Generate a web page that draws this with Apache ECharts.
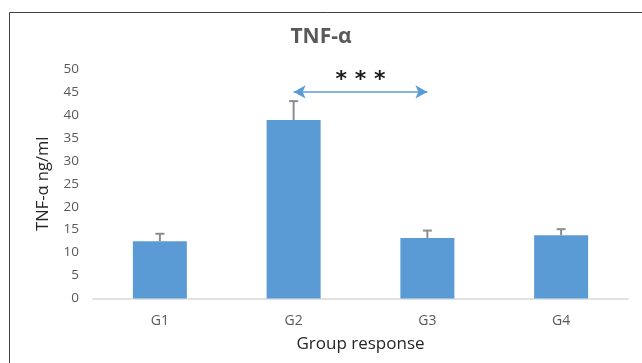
<!DOCTYPE html>
<html>
<head>
<meta charset="utf-8">
<script src="https://cdn.jsdelivr.net/npm/echarts@6/dist/echarts.min.js"></script>
<style>
  html, body { margin: 0; padding: 0; background: #fff; }
  #chart { width: 642px; height: 363px; }
</style>
</head>
<body>
<div id="chart"></div>
<script>
// TNF-α concentration per group (mean ± error)
const categories = ['G1', 'G2', 'G3', 'G4'];
const meanValues = [12.5, 38.9, 13.2, 13.8];
const errorValues = [1.6, 4.1, 1.6, 1.3];
const yTicks = { min: 0, max: 50, interval: 5 };
// significance bracket between G2 and G3
const sigFrom = 'G2';
const sigTo = 'G3';
const sigLevel = 45;
const sigText = '* * *';

const chart = echarts.init(document.getElementById('chart'), null, { renderer: 'canvas' });

const errorData = categories.map((c, i) => [i, meanValues[i], errorValues[i]]);

const option = {
  animation: false,
  backgroundColor: '#ffffff',
  title: {
    text: 'TNF-α',
    left: 'center',
    top: 22,
    textStyle: { fontFamily: 'Open Sans', fontSize: 21, fontWeight: 'bold', color: '#595959' }
  },
  graphic: [{
    type: 'rect',
    shape: { x: 9.5, y: 12.5, width: 700, height: 400 },
    style: { fill: 'none', stroke: '#404040', lineWidth: 1 },
    silent: true
  }],
  grid: { left: 93, right: 14, top: 69, bottom: 64.5 },
  xAxis: {
    type: 'category',
    data: categories,
    name: 'Group response',
    nameLocation: 'middle',
    nameGap: 37,
    nameTextStyle: { fontFamily: 'Open Sans', fontSize: 17, color: '#262626' },
    axisLine: { lineStyle: { color: '#d9d9d9', width: 1.5 } },
    axisTick: { show: false },
    axisLabel: { margin: 16, fontFamily: 'Open Sans', fontSize: 14, color: '#595959' }
  },
  yAxis: {
    type: 'value',
    min: yTicks.min,
    max: yTicks.max,
    interval: yTicks.interval,
    name: 'TNF-α ng/ml',
    nameLocation: 'middle',
    nameGap: 41,
    nameTextStyle: { fontFamily: 'Open Sans', fontSize: 16.5, color: '#262626' },
    axisLine: { show: false },
    axisTick: { show: false },
    splitLine: { show: false },
    axisLabel: { margin: 14, fontFamily: 'Open Sans', fontSize: 13.5, color: '#595959' }
  },
  series: [
    {
      type: 'bar',
      data: meanValues,
      barWidth: 54,
      itemStyle: { color: '#5b9bd5' },
      markLine: {
        silent: true,
        symbol: ['arrow', 'arrow'],
        symbolSize: [10, 12],
        lineStyle: { color: '#5b9bd5', width: 1.5, type: 'solid' },
        label: {
          show: true,
          position: 'middle',
          formatter: sigText,
          distance: 1,
          fontFamily: 'DejaVu Sans',
          fontWeight: 'bold',
          fontSize: 22,
          color: '#1a1a1a'
        },
        data: [[
          { coord: [sigFrom, sigLevel] },
          { coord: [sigTo, sigLevel] }
        ]]
      }
    },
    {
      type: 'custom',
      data: errorData,
      z: 5,
      renderItem: function (params, api) {
        const x = api.value(0);
        const top = api.coord([x, api.value(1) + api.value(2)]);
        const base = api.coord([x, api.value(1)]);
        const half = 4.5;
        const style = { stroke: '#8c8c8c', lineWidth: 2 };
        return {
          type: 'group',
          children: [
            { type: 'line', shape: { x1: base[0], y1: base[1], x2: top[0], y2: top[1] }, style: style },
            { type: 'line', shape: { x1: top[0] - half, y1: top[1], x2: top[0] + half, y2: top[1] }, style: style }
          ]
        };
      }
    }
  ]
};

chart.setOption(option);
</script>
</body>
</html>
